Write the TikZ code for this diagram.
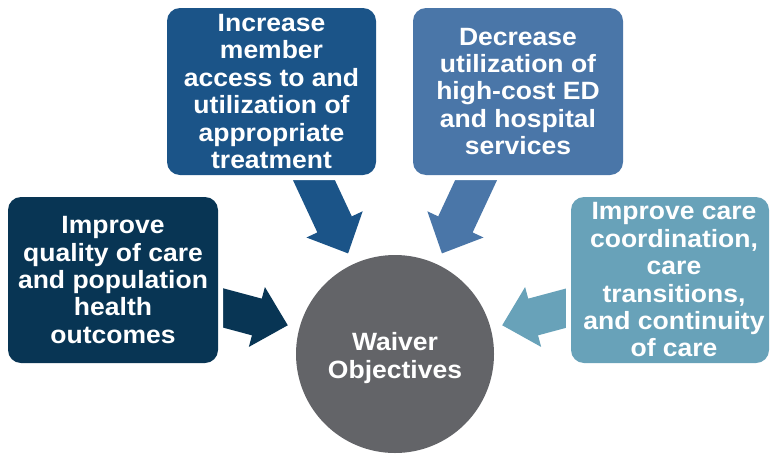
\documentclass[tikz,border=0pt]{standalone}
\usepackage{fontspec}
\setmainfont{Liberation Sans}
\newfontfamily\objfont[FakeStretch=1.06]{Liberation Sans}
\definecolor{cA}{HTML}{083554}
\definecolor{cB}{HTML}{1B5488}
\definecolor{cC}{HTML}{4A76A8}
\definecolor{cD}{HTML}{68A2B9}
\definecolor{cCirc}{HTML}{636468}
\tikzset{
  objbox/.style={rounded corners=13pt, inner sep=0pt,
    preaction={draw=white, line width=10pt}},
  objtxt/.style={text=white, font=\objfont\bfseries\fontsize{25}{27.4}\selectfont,
    align=center, inner sep=0pt},
}
\newcommand{\objarrow}[3]{%
  \begin{scope}[shift={(#1)}, rotate=#2]
    \fill[#3] (0,0) -- (-32,31) -- (-32,19) -- (-105,19) -- (-105,-19)
      -- (-32,-19) -- (-32,-31) -- cycle;
  \end{scope}}
\begin{document}
\begin{tikzpicture}[x=1pt,y=1pt]
  \useasboundingbox (0,0) rectangle (770,-455);
  % centre
  \coordinate (c) at (395,-354);
  \path (c) ++(165:111) coordinate (tipL);
  \path (c) ++(115:111) coordinate (tipM);
  \path (c) ++(65:111) coordinate (tipN);
  \path (c) ++(15:111) coordinate (tipR);
  % arrows (behind boxes)
  \objarrow{tipL}{-15}{cA}
  \objarrow{tipM}{-65}{cB}
  \objarrow{tipN}{-115}{cC}
  \objarrow{tipR}{195}{cD}
  % boxes
  \node[objbox, fill=cA, minimum width=210pt, minimum height=166pt] (b1) at (113,-280) {};
  \node[objbox, fill=cB, minimum width=209pt, minimum height=167pt] (b2) at (271.5,-91.5) {};
  \node[objbox, fill=cC, minimum width=210pt, minimum height=167pt] (b3) at (518,-91.5) {};
  \node[objbox, fill=cD, minimum width=198pt, minimum height=166pt] (b4) at (670,-280) {};
  \node[circle, fill=cCirc, minimum size=198pt, inner sep=0pt] (w) at (c) {};
  % texts
  \node[objtxt] (t1) at (b1.center) {Improve\\quality of care\\and population\\health\\outcomes};
  \node[objtxt] (t2) at (b2.center) {Increase\\member\\access to and\\utilization of\\appropriate\\treatment};
  \node[objtxt] (t3) at (b3.center) {Decrease\\utilization of\\high-cost ED\\and hospital\\services};
  \node[objtxt] (t4) at ([xshift=4pt]b4.center) {Improve care\\coordination,\\care\\transitions,\\and continuity\\of care};
  \node[objtxt] (tw) at ([yshift=-4pt]w.center) {Waiver\\Objectives};
\end{tikzpicture}
\end{document}
